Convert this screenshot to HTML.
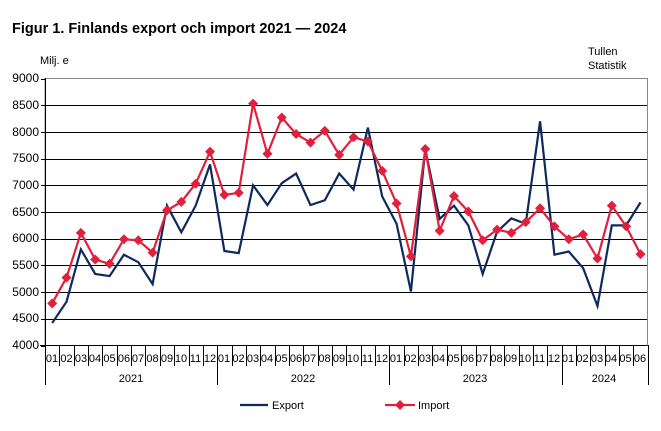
<!DOCTYPE html>
<html><head><meta charset="utf-8"><style>
body{margin:0;background:#fff;}
svg{display:block;font-family:"Liberation Sans",Arial,sans-serif;}
</style></head><body>
<svg id="c" width="661" height="431" viewBox="0 0 661 431">
<text x="12" y="33" font-size="14.5" font-weight="bold">Figur 1. Finlands export och import 2021 — 2024</text>
<text x="40" y="64" font-size="11">Milj. e</text>
<text x="588" y="55" font-size="11">Tullen</text>
<text x="588" y="69" font-size="11">Statistik</text>
<g font-size="12" text-anchor="end">
<text x="39" y="82">9000</text><text x="39" y="109">8500</text><text x="39" y="136">8000</text>
<text x="39" y="162">7500</text><text x="39" y="189">7000</text><text x="39" y="216">6500</text>
<text x="39" y="242">6000</text><text x="39" y="269">5500</text><text x="39" y="296">5000</text>
<text x="39" y="322">4500</text><text x="39" y="349">4000</text>
</g>
<g id="grid" stroke="#000" stroke-width="1"></g>
<rect x="45" y="78.5" width="602.5" height="267" fill="none" stroke="#888"/>
<g id="ax" stroke="#000"></g>
<g font-size="11" text-anchor="middle" id="ml">
<text x="52" y="362">01</text><text x="66.5" y="362">02</text><text x="81" y="362">03</text><text x="95" y="362">04</text><text x="109.5" y="362">05</text><text x="124" y="362">06</text><text x="138" y="362">07</text><text x="152.5" y="362">08</text><text x="167" y="362">09</text><text x="181" y="362">10</text><text x="195.5" y="362">11</text><text x="210" y="362">12</text>
<text x="224" y="362">01</text><text x="238.5" y="362">02</text><text x="253" y="362">03</text><text x="267" y="362">04</text><text x="281.5" y="362">05</text><text x="296" y="362">06</text><text x="310" y="362">07</text><text x="324.5" y="362">08</text><text x="339" y="362">09</text><text x="353" y="362">10</text><text x="367.5" y="362">11</text><text x="382" y="362">12</text>
<text x="396" y="362">01</text><text x="410.5" y="362">02</text><text x="425" y="362">03</text><text x="439" y="362">04</text><text x="453.5" y="362">05</text><text x="468" y="362">06</text><text x="482" y="362">07</text><text x="496.5" y="362">08</text><text x="511" y="362">09</text><text x="525" y="362">10</text><text x="539.5" y="362">11</text><text x="554" y="362">12</text>
<text x="568" y="362">01</text><text x="582.5" y="362">02</text><text x="597" y="362">03</text><text x="611" y="362">04</text><text x="625.5" y="362">05</text><text x="640" y="362">06</text>
<text x="131" y="382">2021</text><text x="303" y="382">2022</text><text x="475" y="382">2023</text><text x="604" y="382">2024</text>
</g>
<polyline id="ex" fill="none" stroke="#0d2a5e" stroke-width="2.2"/>
<polyline id="im" fill="none" stroke="#e0203c" stroke-width="2.2"/>
<g id="mk" fill="#e0203c"></g>
<line x1="240" y1="405" x2="268" y2="405" stroke="#0d2a5e" stroke-width="2.2"/>
<text x="272" y="409" font-size="11">Export</text>
<line x1="385" y1="405" x2="415" y2="405" stroke="#e0203c" stroke-width="2.2"/>
<path d="M400 400 L405 405 L400 410 L395 405Z" fill="#e0203c"/>
<text x="418" y="409" font-size="11">Import</text>
</svg>
<script>
var E=[4420,4820,5800,5340,5300,5700,5560,5150,6620,6120,6620,7390,5770,5730,7000,6630,7040,7220,6630,6720,7220,6920,8080,6790,6280,5010,7680,6370,6620,6250,5340,6130,6380,6280,8200,5700,5760,5450,4740,6250,6250,6680];
var I=[4790,5270,6110,5610,5530,5990,5970,5740,6530,6690,7030,7630,6820,6860,8530,7590,8270,7960,7800,8020,7570,7900,7820,7270,6660,5670,7680,6150,6800,6510,5970,6170,6110,6310,6570,6230,5990,6080,5630,6620,6230,5710];
var W=(647.7-45)/42,ns="http://www.w3.org/2000/svg";
function X(i){return 45+W*(i+0.5)}function Y(v){return 345.5-(v-4000)*267/5000}
document.getElementById('ex').setAttribute('points',E.map(function(v,i){return X(i)+','+Y(v)}).join(' '));
document.getElementById('im').setAttribute('points',I.map(function(v,i){return X(i)+','+Y(v)}).join(' '));
var mk=document.getElementById('mk');
I.forEach(function(v,i){var p=document.createElementNS(ns,'path'),x=X(i),y=Y(v);p.setAttribute('d','M'+x+' '+(y-5)+'L'+(x+5)+' '+y+'L'+x+' '+(y+5)+'L'+(x-5)+' '+y+'Z');mk.appendChild(p);});
var g=document.getElementById('grid');
for(var k=1;k<10;k++){var l=document.createElementNS(ns,'line'),y=Math.round(Y(4000+k*500))+0.5;l.setAttribute('x1',45);l.setAttribute('x2',647.5);l.setAttribute('y1',y);l.setAttribute('y2',y);g.appendChild(l);}
var ax=document.getElementById('ax');
function L(a,b,c,d){var l=document.createElementNS(ns,'line');l.setAttribute('x1',a);l.setAttribute('y1',b);l.setAttribute('x2',c);l.setAttribute('y2',d);ax.appendChild(l);}
L(45.5,78,45.5,385);L(40,345.5,647.5,345.5);
for(var m=0;m<=42;m++){var x=Math.round(45+W*m)+0.5;var yr=(m%12==0||m==42);L(x,345,x,yr?385:366);}
for(var t=0;t<=10;t++){var y=Math.round(Y(4000+t*500))+0.5;L(41,y,45,y);}
</script>
</body></html>
